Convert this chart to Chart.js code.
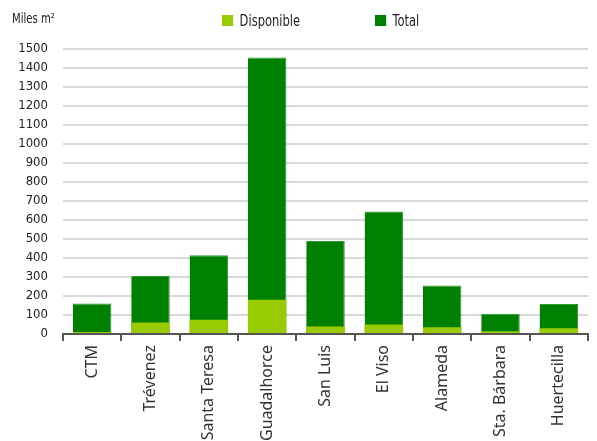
<!DOCTYPE html>
<html>
<head>
<meta charset="utf-8">
<script src="https://cdn.jsdelivr.net/npm/chart.js@4"></script>
<style>
html,body{margin:0;padding:0;background:#fff;}
#wrap{position:relative;width:597px;height:441px;overflow:hidden;}
canvas{position:absolute;left:0;top:0;}
.unit{position:absolute;left:12px;top:10px;font-family:"Liberation Sans Narrow","DejaVu Sans Condensed",Roboto,sans-serif;font-size:14px;color:#222;transform:scaleX(0.8);transform-origin:left top;}
.leg{position:absolute;top:11px;font-family:"Liberation Sans Narrow","DejaVu Sans Condensed",Roboto,sans-serif;font-size:16px;color:#222;display:flex;align-items:center;transform:scaleX(0.8);transform-origin:left top;}
.leg span.box{display:inline-block;width:14px;height:11px;margin-right:8px;}
</style>
</head>
<body>
<div id="wrap">
<canvas id="c" width="597" height="441"></canvas>
<div class="unit">Miles m²</div>
<div class="leg" style="left:222px"><span class="box" style="background:#99cc00"></span>Disponible</div>
<div class="leg" style="left:375px"><span class="box" style="background:#008000"></span>Total</div>
</div>
<script>
const categories = ["CTM","Trévenez","Santa Teresa","Guadalhorce","San Luis","El Viso","Alameda","Sta. Bárbara","Huertecilla"];
const disponible = [10, 60, 75, 180, 40, 50, 35, 15, 30];
const total = [160, 305, 415, 1455, 490, 645, 255, 106, 158];
const yTicks = [0,100,200,300,400,500,600,700,800,900,1000,1100,1200,1300,1400,1500];

new Chart(document.getElementById('c'), {
  type: 'bar',
  data: {
    labels: categories,
    datasets: [
      {label:'Disponible', data: disponible, backgroundColor:'#99cc00', barPercentage:0.66, categoryPercentage:1},
      {label:'Total', data: total, backgroundColor:'#008000', borderColor:'#2f9a2f', borderWidth:{top:1,left:0,right:1,bottom:0}, barPercentage:0.66, categoryPercentage:1}
    ]
  },
  options: {
    responsive:false,
    animation:false,
    devicePixelRatio:1,
    layout:{padding:{top:49,right:9,left:0,bottom:0}},
    plugins:{legend:{display:false}, tooltip:{enabled:false}},
    scales:{
      x:{
        stacked:true,
        afterFit:(s)=>{s.height=107;},
        grid:{display:true, offset:true, drawOnChartArea:false, drawTicks:true, tickLength:7, color:'#555', lineWidth:2},
        border:{display:true,color:'#555',width:2},
        ticks:{maxRotation:90,minRotation:90,padding:4,color:'#333',font:{family:'"Noto Sans"',size:16}}
      },
      y:{
        stacked:false,
        min:0,max:1500,
        afterFit:(s)=>{s.width=63;},
        afterBuildTicks:(s)=>{s.ticks = yTicks.map(v=>({value:v}));},
        grid:{color:'#d9d9d9',lineWidth:2,drawTicks:false},
        border:{display:false},
        ticks:{autoSkip:false,padding:15,color:'#222',font:{family:'"Liberation Sans Narrow", "DejaVu Sans Condensed", Roboto, sans-serif',size:13},
          callback:(v)=>String(v)}
      }
    }
  }
});
</script>
</body>
</html>
